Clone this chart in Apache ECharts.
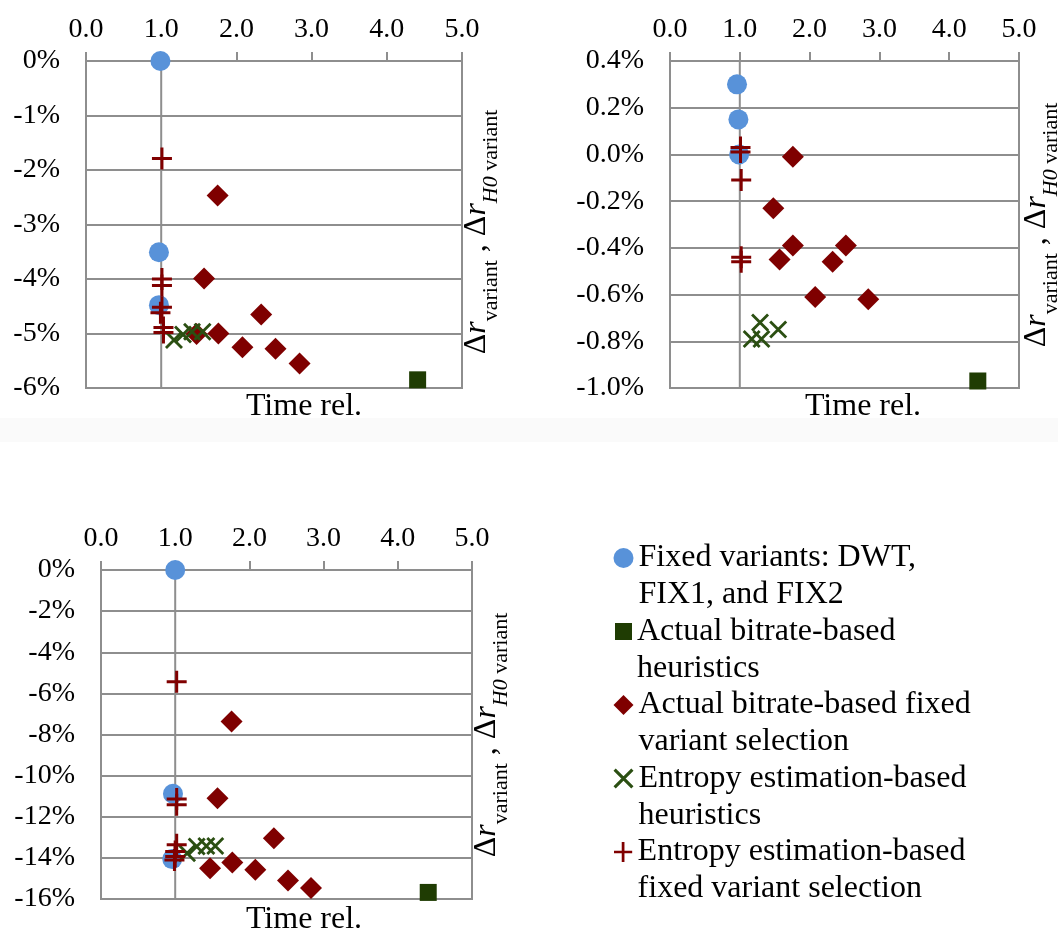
<!DOCTYPE html>
<html>
<head>
<meta charset="utf-8">
<script src="https://cdn.jsdelivr.net/npm/echarts@6/dist/echarts.min.js"></script>
<style>
html,body{margin:0;padding:0;background:#fff;}
#chart{width:1058px;height:935px;}
</style>
</head>
<body>
<div id="chart"></div>
<script>
// ---------------- data ----------------
const SERIES_NAMES = [
  'Fixed variants: DWT, FIX1, and FIX2',
  'Actual bitrate-based heuristics',
  'Actual bitrate-based fixed variant selection',
  'Entropy estimation-based heuristics',
  'Entropy estimation-based fixed variant selection'
];
const LEGEND_LABELS = [
  'Fixed variants: DWT,\nFIX1, and FIX2',
  'Actual bitrate-based\nheuristics',
  'Actual bitrate-based fixed\nvariant selection',
  'Entropy estimation-based\nheuristics',
  'Entropy estimation-based\nfixed variant selection'
];
const X_TICKS = [0, 1, 2, 3, 4, 5];
const X_CROSS = 1.0;
const X_TITLE = 'Time rel.';

// Panel 1 (top left), values in %
const P1_FIXED = [[0.99, 0], [0.97, -3.51], [0.97, -4.48]];
const P1_ABH   = [[4.41, -5.85]];
const P1_ABF   = [[1.75, -2.47], [1.57, -3.99], [2.33, -4.65], [1.47, -5.01], [1.76, -5.00], [2.08, -5.25], [2.52, -5.28], [2.84, -5.55]];
const P1_EEH   = [[1.17, -5.12], [1.29, -5.02], [1.41, -4.97], [1.55, -4.97]];
const P1_EEF   = [[1.01, -1.79], [1.01, -4.00], [1.01, -4.12], [1.01, -4.52], [0.99, -4.62], [1.03, -4.89], [1.03, -4.98]];
const P1_Y = [-6, 0, 1];

// Panel 2 (top right)
const P2_FIXED = [[0.96, 0.30], [0.98, 0.15], [0.99, 0.00]];
const P2_ABH   = [[4.41, -0.97]];
const P2_ABF   = [[1.76, -0.01], [1.48, -0.23], [1.76, -0.39], [2.52, -0.39], [1.57, -0.45], [2.33, -0.46], [2.08, -0.61], [2.84, -0.62]];
const P2_EEH   = [[1.29, -0.72], [1.55, -0.75], [1.17, -0.79], [1.31, -0.79]];
const P2_EEF   = [[1.01, 0.03], [1.01, 0.01], [1.02, -0.11], [1.02, -0.44], [1.02, -0.46]];
const P2_Y = [-1.0, 0.4, 0.2];

// Panel 3 (bottom left)
const P3_FIXED = [[1.00, 0], [0.97, -10.88], [0.96, -14.06]];
const P3_ABH   = [[4.41, -15.68]];
const P3_ABF   = [[1.76, -7.37], [1.57, -11.10], [2.33, -13.04], [1.77, -14.22], [1.47, -14.50], [2.08, -14.58], [2.52, -15.10], [2.83, -15.47]];
const P3_EEH   = [[1.16, -13.77], [1.29, -13.45], [1.42, -13.42], [1.54, -13.42]];
const P3_EEF   = [[1.02, -5.43], [1.02, -11.14], [1.02, -11.42], [1.02, -13.36], [1.00, -13.69], [1.00, -13.93], [0.99, -14.10]];
const P3_Y = [-16, 0, 2];

// ---------------- styling / layout ----------------
const FONT = "'Liberation Serif', 'Times New Roman', serif";
const GRAY = '#8e8e8e';
const COLORS = ['#5892d9', '#1f3c03', '#7f0000', '#2b4f12', '#800000'];
const PLUS_PATH = 'path://M8.5,0h3v22h-3z M0,9.5h20v3h-20z';
const X_PATH = 'path://M0,2L2,0L18,16L16,18Z M16,0L18,2L2,18L0,16Z';
const SYMBOLS = ['circle', 'rect', 'diamond', X_PATH, PLUS_PATH];
const SIZES = [20, 17, 22, 18, [20, 22]];
const LEGEND_SIZES = [[20, 20], [17, 17], [20, 20], [20, 20], [19, 20]];

const PANELS = [
  {data: [P1_FIXED, P1_ABH, P1_ABF, P1_EEH, P1_EEF], y: P1_Y, dec: 0,
   grid: {left: 86, top: 61, width: 376, height: 327}, title: [304, 407], ytitle: [477, 232]},
  {data: [P2_FIXED, P2_ABH, P2_ABF, P2_EEH, P2_EEF], y: P2_Y, dec: 1,
   grid: {left: 670, top: 61, width: 349, height: 327}, title: [863, 407], ytitle: [1037, 225]},
  {data: [P3_FIXED, P3_ABH, P3_ABF, P3_EEH, P3_EEF], y: P3_Y, dec: 0,
   grid: {left: 101, top: 570, width: 371, height: 329}, title: [304, 920], ytitle: [487, 735]}
];

const grids = [], xAxes = [], yAxes = [], series = [], graphics = [];

graphics.push({type: 'rect', shape: {x: 0, y: 418, width: 1058, height: 24}, style: {fill: '#fafafa'}, z: -10, silent: true});

PANELS.forEach((p, i) => {
  grids.push(Object.assign({show: true, borderColor: GRAY, borderWidth: 2, backgroundColor: 'transparent'}, p.grid));
  xAxes.push({
    gridIndex: i, type: 'value', position: 'top',
    min: X_TICKS[0], max: X_TICKS[X_TICKS.length - 1], interval: 1,
    axisLine: {show: true, onZero: false, lineStyle: {color: GRAY, width: 2}},
    axisTick: {show: true, inside: false, length: 9, lineStyle: {color: GRAY, width: 2}},
    axisLabel: {show: true, margin: 17, color: '#000', fontFamily: FONT, fontSize: 28,
      formatter: v => v.toFixed(1)},
    splitLine: {show: false}
  });
  const dec = p.dec;
  yAxes.push({
    gridIndex: i, type: 'value', position: 'left',
    min: p.y[0], max: p.y[1], interval: p.y[2],
    axisLine: {show: false, onZero: false}, axisTick: {show: false},
    axisLabel: {show: true, margin: 26, color: '#000', fontFamily: FONT, fontSize: 28,
      formatter: v => { if (Math.abs(v) < 1e-9) v = 0; return v.toFixed(dec) + '%'; }},
    splitLine: {show: true, lineStyle: {color: GRAY, width: 2}}
  });
  // crossing vertical axis line at x = 1
  series.push({
    type: 'line', xAxisIndex: i, yAxisIndex: i, z: 1, silent: true, symbol: 'none',
    data: [[X_CROSS, p.y[0]], [X_CROSS, p.y[1]]],
    lineStyle: {color: GRAY, width: 2}, animation: false
  });
  p.data.forEach((d, k) => {
    series.push({
      name: SERIES_NAMES[k], type: 'scatter', xAxisIndex: i, yAxisIndex: i, z: 2,
      symbol: SYMBOLS[k], symbolSize: SIZES[k],
      itemStyle: {color: COLORS[k], opacity: 1},
      data: d, animation: false
    });
  });
  graphics.push({
    type: 'text', x: p.title[0], y: p.title[1],
    style: {text: X_TITLE, font: '32px ' + FONT, fill: '#000', align: 'center', verticalAlign: 'middle'}
  });
  graphics.push({
    type: 'text', x: p.ytitle[0], y: p.ytitle[1], rotation: Math.PI / 2,
    style: {
      text: '{d|Δ}{ri|r}{s|variant}{d| , }{d|Δ}{ri|r}{si|H0}{s| variant}',
      align: 'center', verticalAlign: 'middle', fill: '#000',
      rich: {
        d:  {fontFamily: FONT, fontSize: 32, lineHeight: 50, fill: '#000'},
        ri: {fontFamily: FONT, fontSize: 32, fontStyle: 'italic', lineHeight: 50, fill: '#000'},
        s:  {fontFamily: FONT, fontSize: 22, lineHeight: 23, verticalAlign: 'bottom', fill: '#000'},
        si: {fontFamily: FONT, fontSize: 22, fontStyle: 'italic', lineHeight: 23, verticalAlign: 'bottom', fill: '#000'}
      }
    }
  });
});

const LEG_LINE = 36.75;
const legends = SERIES_NAMES.map((n, k) => {
  const c = 558 + 73.5 * k;
  const w = LEGEND_SIZES[k][0];
  return {
    data: [{name: n, icon: SYMBOLS[k]}],
    left: 623.5 - w / 2, top: c - LEG_LINE * 1.5, padding: 0,
    itemWidth: w, itemHeight: LEGEND_SIZES[k][1],
    selectedMode: false, orient: 'vertical',
    // leading empty line puts the first text line level with the icon
    formatter: () => '\n' + LEGEND_LABELS[k],
    textStyle: {fontFamily: FONT, fontSize: 32, color: '#000', lineHeight: LEG_LINE}
  };
});

const chart = echarts.init(document.getElementById('chart'), null, {renderer: 'canvas'});
chart.setOption({
  animation: false,
  backgroundColor: '#fff',
  grid: grids, xAxis: xAxes, yAxis: yAxes,
  legend: legends,
  series: series,
  graphic: graphics
});
</script>
</body>
</html>
